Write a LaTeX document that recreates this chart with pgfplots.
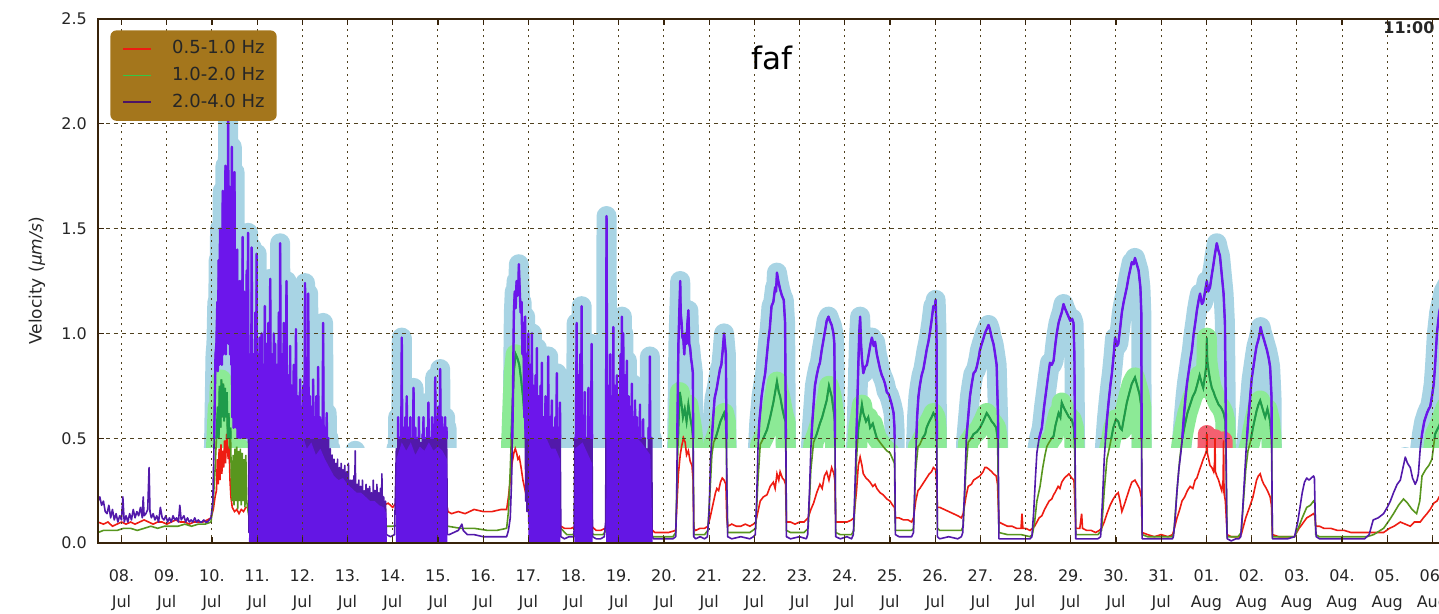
\documentclass[border=0pt]{standalone}
\usepackage{fontspec}
\setmainfont{DejaVu Sans}
\usepackage{pgfplots}
\usepackage{pgfplotstable}
\pgfplotsset{compat=1.18}

\definecolor{haloblue}{RGB}{168,212,228}
\definecolor{halogreen}{RGB}{140,234,150}
\definecolor{halored}{RGB}{244,96,112}
\definecolor{redbase}{RGB}{238,28,18}
\definecolor{greenbase}{RGB}{88,150,30}
\definecolor{greenleg}{RGB}{50,200,70}
\definecolor{greenvivid}{RGB}{30,155,75}
\definecolor{purplebase}{RGB}{82,25,170}
\definecolor{purplevivid}{RGB}{108,22,235}
\definecolor{purplefill}{RGB}{100,22,228}
\definecolor{purpleleg}{RGB}{75,20,100}
\definecolor{legfill}{RGB}{164,118,28}
\definecolor{framec}{RGB}{55,35,10}
\definecolor{gridc}{RGB}{80,65,30}

% 0.5-1.0 Hz
\pgfplotstableread[row sep=\\]{
x y\\
-0.52 0.10\\ -0.40 0.09\\ -0.30 0.10\\ -0.20 0.08\\ -0.10 0.09\\ 0.00 0.10\\ 0.10 0.09\\ 0.20 0.10\\ 0.30 0.09\\ 0.40 0.10\\
0.50 0.11\\ 0.60 0.10\\ 0.70 0.09\\ 0.80 0.10\\ 0.90 0.10\\ 1.00 0.09\\ 1.10 0.10\\ 1.20 0.11\\ 1.30 0.10\\ 1.40 0.10\\
1.50 0.09\\ 1.60 0.10\\ 1.70 0.10\\ 1.80 0.10\\ 1.90 0.11\\ 1.98 0.12\\ 2.03 0.16\\ 2.07 0.22\\ 2.10 0.25\\ 2.12 0.40\\
2.14 0.28\\ 2.16 0.45\\ 2.18 0.30\\ 2.20 0.47\\ 2.22 0.33\\ 2.24 0.44\\ 2.26 0.36\\ 2.28 0.49\\ 2.30 0.38\\ 2.33 0.52\\
2.36 0.40\\ 2.38 0.46\\ 2.40 0.30\\ 2.42 0.22\\ 2.45 0.17\\ 2.50 0.15\\ 2.55 0.16\\ 2.60 0.14\\ 2.65 0.16\\ 2.70 0.15\\
2.75 0.17\\ 2.82 0.17\\ 2.90 0.20\\ 3.00 0.18\\ 3.10 0.22\\ 3.20 0.19\\ 3.30 0.20\\ 3.40 0.18\\ 3.50 0.20\\ 3.60 0.17\\
3.70 0.19\\ 3.80 0.18\\ 3.90 0.20\\ 4.00 0.17\\ 4.20 0.18\\ 4.40 0.17\\ 4.60 0.16\\ 4.80 0.17\\ 5.00 0.16\\ 5.20 0.17\\
5.40 0.16\\ 5.60 0.17\\ 5.80 0.18\\ 5.90 0.19\\ 6.00 0.17\\ 6.10 0.20\\ 6.30 0.25\\ 6.50 0.22\\ 6.70 0.26\\ 6.90 0.24\\
7.05 0.32\\ 7.15 0.25\\ 7.22 0.15\\ 7.30 0.14\\ 7.45 0.15\\ 7.60 0.14\\ 7.80 0.16\\ 8.00 0.15\\ 8.20 0.15\\ 8.40 0.16\\
8.52 0.16\\ 8.56 0.22\\ 8.60 0.30\\ 8.64 0.38\\ 8.68 0.43\\ 8.71 0.45\\ 8.74 0.43\\ 8.77 0.40\\ 8.80 0.41\\ 8.84 0.36\\
8.88 0.30\\ 8.93 0.25\\ 8.98 0.20\\ 9.05 0.16\\ 9.15 0.13\\ 9.30 0.11\\ 9.45 0.10\\ 9.60 0.09\\ 9.72 0.08\\ 9.80 0.07\\
9.95 0.07\\ 10.05 0.08\\ 10.07 0.29\\ 10.09 0.10\\ 10.20 0.12\\ 10.30 0.10\\ 10.40 0.08\\ 10.50 0.06\\ 10.60 0.06\\ 10.70 0.07\\
10.80 0.10\\ 10.90 0.12\\ 10.96 0.20\\ 11.00 0.12\\ 11.10 0.10\\ 11.20 0.12\\ 11.30 0.10\\ 11.40 0.09\\ 11.50 0.10\\ 11.60 0.08\\
11.70 0.07\\ 11.80 0.05\\ 11.95 0.05\\ 12.10 0.05\\ 12.26 0.06\\ 12.29 0.20\\ 12.32 0.33\\ 12.36 0.42\\ 12.39 0.46\\ 12.43 0.50\\
12.47 0.48\\ 12.50 0.42\\ 12.54 0.44\\ 12.58 0.39\\ 12.62 0.37\\ 12.645 0.30\\ 12.66 0.07\\ 12.70 0.06\\ 12.80 0.07\\ 12.90 0.07\\
12.97 0.08\\ 13.02 0.12\\ 13.06 0.16\\ 13.10 0.20\\ 13.14 0.24\\ 13.17 0.26\\ 13.21 0.25\\ 13.25 0.29\\ 13.29 0.31\\ 13.33 0.30\\
13.37 0.28\\ 13.39 0.12\\ 13.41 0.08\\ 13.50 0.09\\ 13.60 0.08\\ 13.70 0.08\\ 13.80 0.09\\ 13.90 0.08\\ 13.98 0.09\\ 14.03 0.10\\
14.08 0.15\\ 14.13 0.20\\ 14.20 0.22\\ 14.28 0.23\\ 14.35 0.27\\ 14.42 0.29\\ 14.46 0.26\\ 14.50 0.33\\ 14.54 0.30\\ 14.57 0.34\\
14.62 0.31\\ 14.66 0.30\\ 14.69 0.28\\ 14.71 0.10\\ 14.80 0.10\\ 14.90 0.09\\ 15.00 0.10\\ 15.10 0.10\\ 15.19 0.12\\ 15.25 0.16\\
15.31 0.19\\ 15.38 0.24\\ 15.45 0.28\\ 15.50 0.26\\ 15.55 0.32\\ 15.60 0.34\\ 15.65 0.30\\ 15.71 0.36\\ 15.76 0.33\\ 15.78 0.30\\
15.80 0.10\\ 15.90 0.10\\ 16.05 0.10\\ 16.15 0.11\\ 16.20 0.12\\ 16.26 0.25\\ 16.30 0.37\\ 16.34 0.41\\ 16.38 0.37\\ 16.41 0.33\\
16.47 0.31\\ 16.52 0.30\\ 16.56 0.29\\ 16.62 0.27\\ 16.67 0.28\\ 16.71 0.26\\ 16.78 0.24\\ 16.85 0.23\\ 16.93 0.21\\ 17.00 0.20\\
17.06 0.18\\ 17.10 0.17\\ 17.12 0.12\\ 17.20 0.12\\ 17.30 0.11\\ 17.40 0.11\\ 17.48 0.10\\ 17.52 0.12\\ 17.57 0.20\\ 17.62 0.25\\
17.66 0.26\\ 17.72 0.28\\ 17.78 0.30\\ 17.81 0.31\\ 17.87 0.33\\ 17.92 0.34\\ 17.96 0.36\\ 18.01 0.35\\ 18.03 0.30\\ 18.05 0.17\\
18.10 0.17\\ 18.20 0.16\\ 18.30 0.15\\ 18.40 0.14\\ 18.50 0.13\\ 18.58 0.12\\ 18.62 0.14\\ 18.68 0.22\\ 18.73 0.27\\ 18.80 0.28\\
18.85 0.30\\ 18.92 0.31\\ 18.99 0.32\\ 19.06 0.34\\ 19.10 0.36\\ 19.14 0.36\\ 19.20 0.35\\ 19.25 0.34\\ 19.29 0.33\\ 19.35 0.32\\
19.38 0.28\\ 19.41 0.10\\ 19.50 0.09\\ 19.60 0.08\\ 19.70 0.08\\ 19.80 0.07\\ 19.90 0.07\\ 19.92 0.14\\ 19.94 0.07\\ 20.00 0.07\\
20.10 0.06\\ 20.15 0.07\\ 20.20 0.08\\ 20.25 0.10\\ 20.30 0.12\\ 20.36 0.13\\ 20.42 0.16\\ 20.47 0.18\\ 20.52 0.20\\ 20.58 0.21\\
20.62 0.23\\ 20.65 0.24\\ 20.72 0.27\\ 20.76 0.26\\ 20.80 0.29\\ 20.86 0.31\\ 20.91 0.32\\ 20.96 0.33\\ 21.02 0.31\\ 21.07 0.30\\
21.09 0.20\\ 21.11 0.07\\ 21.20 0.07\\ 21.24 0.14\\ 21.26 0.07\\ 21.35 0.06\\ 21.45 0.06\\ 21.55 0.05\\ 21.63 0.06\\ 21.68 0.07\\
21.74 0.10\\ 21.80 0.14\\ 21.87 0.18\\ 21.94 0.21\\ 22.00 0.23\\ 22.05 0.24\\ 22.09 0.20\\ 22.13 0.15\\ 22.18 0.18\\ 22.24 0.22\\
22.30 0.26\\ 22.35 0.29\\ 22.42 0.30\\ 22.47 0.28\\ 22.52 0.26\\ 22.56 0.22\\ 22.58 0.05\\ 22.70 0.04\\ 22.85 0.03\\ 23.00 0.04\\
23.15 0.03\\ 23.25 0.04\\ 23.28 0.06\\ 23.35 0.12\\ 23.41 0.16\\ 23.46 0.20\\ 23.52 0.22\\ 23.58 0.25\\ 23.64 0.27\\ 23.70 0.26\\
23.75 0.30\\ 23.79 0.31\\ 23.85 0.35\\ 23.90 0.38\\ 23.93 0.40\\ 23.97 0.42\\ 24.00 0.44\\ 24.01 0.52\\ 24.02 0.43\\ 24.05 0.40\\
24.08 0.37\\ 24.12 0.36\\ 24.16 0.34\\ 24.18 0.38\\ 24.19 0.50\\ 24.20 0.34\\ 24.23 0.32\\ 24.27 0.30\\ 24.31 0.27\\ 24.34 0.25\\
24.37 0.30\\ 24.38 0.49\\ 24.39 0.24\\ 24.42 0.20\\ 24.46 0.04\\ 24.55 0.03\\ 24.65 0.03\\ 24.72 0.03\\ 24.77 0.04\\ 24.82 0.08\\
24.87 0.12\\ 24.92 0.15\\ 24.97 0.18\\ 25.03 0.22\\ 25.08 0.27\\ 25.11 0.30\\ 25.15 0.32\\ 25.19 0.33\\ 25.23 0.30\\ 25.27 0.28\\
25.30 0.27\\ 25.35 0.25\\ 25.41 0.22\\ 25.44 0.18\\ 25.46 0.04\\ 25.60 0.03\\ 25.80 0.03\\ 25.95 0.03\\ 25.97 0.04\\ 26.05 0.07\\
26.12 0.09\\ 26.22 0.12\\ 26.30 0.13\\ 26.37 0.14\\ 26.40 0.13\\ 26.42 0.08\\ 26.50 0.08\\ 26.60 0.07\\ 26.75 0.07\\ 26.90 0.06\\
27.05 0.06\\ 27.20 0.05\\ 27.35 0.05\\ 27.50 0.05\\ 27.65 0.05\\ 27.80 0.05\\ 27.92 0.05\\ 28.05 0.07\\ 28.15 0.08\\ 28.29 0.10\\
28.40 0.09\\ 28.51 0.08\\ 28.60 0.10\\ 28.73 0.10\\ 28.80 0.12\\ 28.88 0.14\\ 28.95 0.16\\ 29.03 0.19\\ 29.10 0.20\\ 29.15 0.22\\
29.30 0.26\\ 29.50 0.30\\
}\redtab

% 1.0-2.0 Hz
\pgfplotstableread[row sep=\\]{
x y\\
-0.52 0.05\\ -0.40 0.06\\ -0.25 0.06\\ -0.10 0.06\\ 0.05 0.07\\ 0.20 0.07\\ 0.35 0.06\\ 0.50 0.07\\ 0.65 0.08\\ 0.80 0.07\\
0.95 0.08\\ 1.10 0.08\\ 1.25 0.08\\ 1.40 0.09\\ 1.55 0.08\\ 1.70 0.09\\ 1.85 0.09\\ 1.98 0.10\\ 2.03 0.20\\ 2.07 0.35\\
2.10 0.50\\ 2.13 0.65\\ 2.15 0.50\\ 2.17 0.75\\ 2.19 0.55\\ 2.21 0.78\\ 2.23 0.60\\ 2.25 0.76\\ 2.27 0.58\\ 2.29 0.74\\
2.31 0.60\\ 2.33 0.72\\ 2.35 0.50\\ 2.37 0.62\\ 2.39 0.45\\ 2.41 0.55\\ 2.43 0.30\\ 2.45 0.20\\ 2.47 0.42\\ 2.49 0.18\\
2.51 0.45\\ 2.53 0.20\\ 2.55 0.46\\ 2.57 0.16\\ 2.59 0.44\\ 2.61 0.20\\ 2.63 0.45\\ 2.65 0.18\\ 2.67 0.43\\ 2.69 0.20\\
2.71 0.40\\ 2.73 0.17\\ 2.75 0.42\\ 2.77 0.20\\ 2.80 0.15\\ 2.85 0.09\\ 3.20 0.08\\ 3.60 0.09\\ 4.00 0.08\\ 4.50 0.08\\
5.00 0.07\\ 5.50 0.08\\ 6.00 0.08\\ 6.50 0.10\\ 7.00 0.10\\ 7.22 0.08\\ 7.50 0.07\\ 7.80 0.07\\ 8.10 0.06\\ 8.30 0.06\\
8.52 0.07\\ 8.56 0.15\\ 8.60 0.35\\ 8.64 0.60\\ 8.68 0.82\\ 8.72 0.90\\ 8.76 0.88\\ 8.80 0.85\\ 8.84 0.78\\ 8.88 0.70\\
8.92 0.60\\ 8.96 0.50\\ 9.00 0.38\\ 9.05 0.28\\ 9.10 0.22\\ 9.20 0.18\\ 9.30 0.15\\ 9.45 0.12\\ 9.60 0.10\\ 9.72 0.07\\
9.85 0.04\\ 9.98 0.04\\ 10.10 0.06\\ 10.30 0.06\\ 10.45 0.04\\ 10.65 0.04\\ 10.80 0.08\\ 10.96 0.27\\ 10.98 0.08\\ 11.20 0.07\\
11.50 0.06\\ 11.77 0.03\\ 12.00 0.03\\ 12.20 0.03\\ 12.26 0.05\\ 12.29 0.30\\ 12.32 0.55\\ 12.35 0.72\\ 12.38 0.68\\ 12.42 0.60\\
12.46 0.64\\ 12.50 0.58\\ 12.54 0.66\\ 12.58 0.60\\ 12.62 0.55\\ 12.645 0.50\\ 12.66 0.04\\ 12.80 0.04\\ 12.90 0.04\\ 12.97 0.06\\
13.02 0.25\\ 13.06 0.42\\ 13.10 0.48\\ 13.14 0.50\\ 13.17 0.52\\ 13.21 0.55\\ 13.25 0.58\\ 13.29 0.60\\ 13.33 0.62\\ 13.37 0.58\\
13.39 0.30\\ 13.41 0.05\\ 13.50 0.05\\ 13.70 0.05\\ 13.90 0.05\\ 14.03 0.07\\ 14.08 0.30\\ 14.13 0.47\\ 14.20 0.50\\ 14.28 0.54\\
14.35 0.60\\ 14.42 0.67\\ 14.46 0.72\\ 14.50 0.77\\ 14.54 0.72\\ 14.57 0.70\\ 14.62 0.64\\ 14.66 0.60\\ 14.69 0.58\\ 14.71 0.06\\
14.80 0.05\\ 15.00 0.05\\ 15.10 0.05\\ 15.19 0.07\\ 15.25 0.35\\ 15.31 0.48\\ 15.38 0.52\\ 15.45 0.57\\ 15.50 0.60\\ 15.55 0.64\\
15.60 0.68\\ 15.65 0.75\\ 15.71 0.70\\ 15.76 0.62\\ 15.78 0.58\\ 15.80 0.05\\ 15.90 0.04\\ 16.05 0.04\\ 16.15 0.04\\ 16.20 0.06\\
16.26 0.40\\ 16.30 0.55\\ 16.34 0.60\\ 16.38 0.66\\ 16.41 0.62\\ 16.47 0.58\\ 16.52 0.60\\ 16.56 0.55\\ 16.62 0.57\\ 16.67 0.53\\
16.71 0.50\\ 16.78 0.48\\ 16.85 0.46\\ 16.93 0.44\\ 17.00 0.43\\ 17.06 0.40\\ 17.10 0.38\\ 17.12 0.06\\ 17.20 0.06\\ 17.35 0.06\\
17.48 0.06\\ 17.52 0.07\\ 17.57 0.35\\ 17.62 0.46\\ 17.66 0.47\\ 17.72 0.50\\ 17.78 0.52\\ 17.81 0.55\\ 17.87 0.58\\ 17.92 0.60\\
17.96 0.62\\ 18.01 0.60\\ 18.03 0.55\\ 18.05 0.07\\ 18.10 0.06\\ 18.30 0.06\\ 18.50 0.06\\ 18.58 0.06\\ 18.62 0.08\\ 18.68 0.35\\
18.73 0.48\\ 18.80 0.50\\ 18.85 0.52\\ 18.92 0.53\\ 18.99 0.55\\ 19.06 0.58\\ 19.10 0.60\\ 19.14 0.62\\ 19.20 0.60\\ 19.25 0.58\\
19.29 0.57\\ 19.35 0.55\\ 19.38 0.50\\ 19.41 0.05\\ 19.60 0.04\\ 19.90 0.04\\ 20.10 0.03\\ 20.15 0.04\\ 20.20 0.10\\ 20.25 0.20\\
20.32 0.27\\ 20.38 0.36\\ 20.43 0.42\\ 20.47 0.46\\ 20.52 0.48\\ 20.58 0.50\\ 20.62 0.51\\ 20.66 0.56\\ 20.73 0.62\\ 20.77 0.60\\
20.80 0.67\\ 20.86 0.64\\ 20.91 0.62\\ 20.96 0.60\\ 21.02 0.59\\ 21.07 0.55\\ 21.09 0.40\\ 21.11 0.04\\ 21.20 0.04\\ 21.40 0.04\\
21.60 0.04\\ 21.68 0.06\\ 21.74 0.25\\ 21.80 0.40\\ 21.87 0.47\\ 21.94 0.55\\ 22.00 0.59\\ 22.05 0.58\\ 22.09 0.55\\ 22.13 0.54\\
22.18 0.60\\ 22.24 0.67\\ 22.30 0.72\\ 22.35 0.76\\ 22.42 0.79\\ 22.47 0.75\\ 22.52 0.71\\ 22.56 0.65\\ 22.58 0.04\\ 22.70 0.03\\
23.00 0.03\\ 23.25 0.03\\ 23.28 0.05\\ 23.35 0.25\\ 23.41 0.40\\ 23.46 0.49\\ 23.52 0.56\\ 23.58 0.62\\ 23.64 0.66\\ 23.70 0.70\\
23.75 0.72\\ 23.79 0.75\\ 23.85 0.80\\ 23.90 0.76\\ 23.93 0.74\\ 23.97 0.80\\ 24.00 0.85\\ 24.01 0.98\\ 24.02 0.87\\ 24.05 0.82\\
24.08 0.78\\ 24.12 0.74\\ 24.16 0.72\\ 24.19 0.70\\ 24.23 0.68\\ 24.27 0.66\\ 24.31 0.65\\ 24.34 0.64\\ 24.38 0.62\\ 24.42 0.58\\
24.46 0.03\\ 24.55 0.03\\ 24.70 0.03\\ 24.77 0.05\\ 24.82 0.20\\ 24.87 0.35\\ 24.92 0.44\\ 24.97 0.48\\ 25.03 0.55\\ 25.08 0.60\\
25.11 0.63\\ 25.15 0.66\\ 25.19 0.68\\ 25.23 0.65\\ 25.27 0.62\\ 25.30 0.60\\ 25.35 0.64\\ 25.41 0.58\\ 25.44 0.50\\ 25.46 0.03\\
25.60 0.03\\ 25.80 0.03\\ 25.95 0.03\\ 25.97 0.04\\ 26.05 0.08\\ 26.12 0.12\\ 26.22 0.17\\ 26.30 0.18\\ 26.37 0.20\\ 26.40 0.19\\
26.42 0.04\\ 26.50 0.03\\ 26.80 0.03\\ 27.10 0.03\\ 27.40 0.03\\ 27.55 0.03\\ 27.70 0.04\\ 27.92 0.07\\ 28.05 0.11\\ 28.14 0.14\\
28.25 0.18\\ 28.36 0.21\\ 28.45 0.19\\ 28.55 0.16\\ 28.65 0.14\\ 28.72 0.20\\ 28.77 0.32\\ 28.85 0.35\\ 28.92 0.37\\ 28.99 0.40\\
29.06 0.52\\ 29.15 0.56\\ 29.30 0.65\\ 29.50 0.70\\
}\greentab

% 2.0-4.0 Hz
\pgfplotstableread[row sep=\\]{
x y\\
-0.52 0.20\\ -0.48 0.22\\ -0.44 0.18\\ -0.40 0.20\\ -0.36 0.15\\ -0.32 0.14\\ -0.28 0.18\\ -0.24 0.12\\ -0.20 0.16\\ -0.16 0.11\\
-0.12 0.14\\ -0.08 0.10\\ -0.04 0.13\\ 0.00 0.11\\ 0.03 0.22\\ 0.06 0.10\\ 0.10 0.13\\ 0.14 0.10\\ 0.18 0.14\\ 0.22 0.11\\
0.26 0.16\\ 0.30 0.12\\ 0.34 0.15\\ 0.38 0.13\\ 0.42 0.17\\ 0.46 0.12\\ 0.48 0.22\\ 0.50 0.13\\ 0.54 0.14\\ 0.58 0.16\\
0.61 0.36\\ 0.63 0.15\\ 0.66 0.12\\ 0.70 0.14\\ 0.74 0.11\\ 0.78 0.13\\ 0.82 0.10\\ 0.86 0.17\\ 0.90 0.12\\ 0.94 0.11\\
0.98 0.13\\ 1.02 0.10\\ 1.06 0.12\\ 1.10 0.10\\ 1.14 0.13\\ 1.18 0.11\\ 1.22 0.12\\ 1.26 0.10\\ 1.29 0.18\\ 1.32 0.11\\
1.38 0.13\\ 1.42 0.10\\ 1.46 0.12\\ 1.50 0.10\\ 1.54 0.11\\ 1.58 0.10\\ 1.62 0.12\\ 1.66 0.10\\ 1.70 0.11\\ 1.74 0.10\\
1.78 0.10\\ 1.82 0.11\\ 1.86 0.10\\ 1.90 0.10\\ 1.94 0.11\\ 1.98 0.12\\ 2.02 0.20\\ 2.05 0.50\\ 2.08 0.90\\ 2.10 0.95\\
2.12 1.15\\ 2.13 0.82\\ 2.15 1.35\\ 2.16 0.85\\ 2.18 1.50\\ 2.19 0.90\\ 2.21 1.45\\ 2.22 0.85\\ 2.24 1.68\\ 2.25 0.90\\
2.27 1.60\\ 2.28 0.95\\ 2.30 1.80\\ 2.31 0.90\\ 2.33 1.75\\ 2.34 1.00\\ 2.36 2.06\\ 2.37 0.95\\ 2.39 1.70\\ 2.40 0.90\\
2.42 1.60\\ 2.43 0.85\\ 2.44 1.89\\ 2.45 0.60\\ 2.47 1.55\\ 2.48 0.55\\ 2.50 1.77\\ 2.51 0.60\\ 2.53 1.30\\ 2.54 0.55\\
2.56 1.40\\ 2.57 0.50\\ 2.59 1.20\\ 2.60 0.55\\ 2.62 1.25\\ 2.63 0.50\\ 2.65 1.10\\ 2.66 0.55\\ 2.68 1.46\\ 2.69 0.50\\
2.71 1.20\\ 2.72 0.55\\ 2.74 1.10\\ 2.75 0.50\\ 2.77 1.30\\ 2.78 0.52\\ 2.80 1.48\\ 2.81 0.50\\ 2.82 0.05\\
2.85 0.90\\ 2.86 0.05\\ 2.88 1.41\\ 2.90 0.04\\ 2.92 0.90\\ 2.94 0.05\\ 2.96 1.10\\ 2.97 0.04\\ 2.99 1.38\\ 3.00 0.05\\
3.02 0.90\\ 3.04 0.04\\ 3.06 0.98\\ 3.08 0.05\\ 3.10 1.00\\ 3.11 0.04\\ 3.13 0.85\\ 3.15 0.05\\ 3.17 1.13\\ 3.19 0.04\\
3.21 0.95\\ 3.23 0.05\\ 3.25 1.05\\ 3.27 0.04\\ 3.29 1.26\\ 3.31 0.05\\ 3.33 0.90\\ 3.35 0.04\\ 3.37 1.00\\ 3.38 0.05\\
3.40 0.95\\ 3.42 0.04\\ 3.44 0.85\\ 3.46 0.05\\ 3.48 1.10\\ 3.49 0.04\\ 3.51 1.43\\ 3.53 0.05\\ 3.55 0.90\\ 3.57 0.04\\
3.59 1.05\\ 3.60 0.05\\ 3.62 0.85\\ 3.63 0.04\\ 3.65 1.25\\ 3.67 0.05\\ 3.69 0.80\\ 3.71 0.04\\ 3.73 0.94\\ 3.75 0.05\\
3.77 0.75\\ 3.79 0.04\\ 3.81 0.85\\ 3.83 0.05\\ 3.86 1.02\\ 3.88 0.04\\ 3.90 0.70\\ 3.92 0.05\\ 3.95 0.78\\ 3.97 0.04\\
3.99 0.65\\ 4.00 0.05\\ 4.02 0.75\\ 4.04 0.04\\ 4.06 1.24\\ 4.08 0.05\\ 4.10 0.80\\ 4.11 0.04\\ 4.13 1.19\\ 4.15 0.05\\
4.17 0.70\\ 4.18 0.04\\ 4.20 0.65\\ 4.22 0.05\\ 4.24 0.78\\ 4.26 0.04\\ 4.28 0.60\\ 4.29 0.05\\ 4.31 0.70\\ 4.33 0.04\\
4.35 0.84\\ 4.37 0.05\\ 4.39 0.60\\ 4.40 0.04\\ 4.42 0.55\\ 4.44 0.05\\ 4.46 1.05\\ 4.48 0.04\\ 4.50 0.55\\ 4.52 0.05\\
4.54 0.62\\ 4.56 0.04\\ 4.58 0.50\\ 4.60 0.05\\ 4.62 0.45\\ 4.64 0.04\\ 4.66 0.42\\ 4.68 0.05\\ 4.70 0.40\\ 4.72 0.04\\
4.74 0.38\\ 4.76 0.05\\ 4.78 0.40\\ 4.80 0.04\\ 4.82 0.36\\ 4.84 0.05\\ 4.86 0.38\\ 4.88 0.04\\ 4.90 0.35\\ 4.92 0.05\\
4.94 0.37\\ 4.96 0.04\\ 4.98 0.34\\ 5.00 0.05\\ 5.02 0.38\\ 5.04 0.04\\ 5.06 0.30\\ 5.08 0.05\\ 5.10 0.30\\ 5.12 0.04\\
5.14 0.32\\ 5.15 0.05\\ 5.17 0.44\\ 5.19 0.04\\ 5.21 0.28\\ 5.23 0.05\\ 5.25 0.30\\ 5.27 0.04\\ 5.29 0.27\\ 5.31 0.05\\
5.33 0.30\\ 5.35 0.04\\ 5.37 0.25\\ 5.39 0.05\\ 5.41 0.28\\ 5.43 0.04\\ 5.45 0.26\\ 5.47 0.05\\ 5.49 0.27\\ 5.51 0.04\\
5.53 0.24\\ 5.55 0.05\\ 5.57 0.30\\ 5.59 0.04\\ 5.61 0.25\\ 5.63 0.05\\ 5.65 0.28\\ 5.67 0.04\\ 5.69 0.24\\ 5.71 0.05\\
5.73 0.26\\ 5.75 0.04\\ 5.76 0.33\\ 5.78 0.05\\ 5.80 0.22\\ 5.82 0.04\\ 5.84 0.20\\ 5.86 0.04\\ 5.95 0.03\\ 6.04 0.04\\
6.08 0.45\\ 6.10 0.05\\ 6.12 0.60\\ 6.14 0.04\\ 6.16 0.50\\ 6.18 0.05\\ 6.20 0.98\\ 6.22 0.04\\ 6.24 0.55\\ 6.26 0.05\\
6.28 0.60\\ 6.29 0.04\\ 6.31 0.70\\ 6.33 0.05\\ 6.35 0.55\\ 6.37 0.04\\ 6.39 0.60\\ 6.40 0.05\\ 6.42 0.50\\ 6.44 0.04\\
6.46 0.74\\ 6.48 0.05\\ 6.50 0.55\\ 6.52 0.04\\ 6.54 0.50\\ 6.56 0.05\\ 6.58 0.60\\ 6.60 0.04\\ 6.62 0.48\\ 6.64 0.05\\
6.66 0.52\\ 6.67 0.04\\ 6.68 0.60\\ 6.70 0.05\\ 6.72 0.50\\ 6.74 0.04\\ 6.76 0.55\\ 6.77 0.05\\ 6.79 0.67\\ 6.81 0.04\\
6.83 0.50\\ 6.85 0.05\\ 6.87 0.60\\ 6.88 0.04\\ 6.90 0.55\\ 6.92 0.05\\ 6.94 0.79\\ 6.96 0.04\\ 6.98 0.60\\ 6.99 0.05\\
7.01 0.65\\ 7.03 0.04\\ 7.05 0.83\\ 7.07 0.05\\ 7.09 0.60\\ 7.11 0.04\\ 7.13 0.55\\ 7.14 0.05\\ 7.16 0.60\\ 7.17 0.04\\
7.19 0.55\\ 7.21 0.04\\ 7.25 0.04\\ 7.35 0.05\\ 7.45 0.06\\ 7.53 0.09\\ 7.56 0.06\\ 7.65 0.04\\ 7.80 0.04\\ 8.00 0.03\\
8.20 0.03\\ 8.40 0.03\\ 8.52 0.03\\ 8.56 0.06\\ 8.60 0.12\\ 8.63 0.30\\ 8.66 0.70\\ 8.68 1.10\\ 8.70 1.20\\ 8.72 1.12\\
8.74 1.25\\ 8.76 1.18\\ 8.78 1.22\\ 8.79 1.33\\ 8.81 1.20\\ 8.83 1.10\\ 8.85 1.15\\ 8.87 0.90\\ 8.89 1.05\\ 8.91 0.60\\
8.93 1.08\\ 8.94 0.20\\ 8.96 0.90\\ 8.97 0.15\\ 9.00 1.00\\ 9.01 0.10\\ 9.04 0.85\\ 9.05 0.12\\ 9.08 1.00\\ 9.09 0.08\\
9.12 0.75\\ 9.13 0.10\\ 9.16 0.80\\ 9.17 0.06\\ 9.19 0.93\\ 9.20 0.05\\ 9.23 0.70\\ 9.24 0.08\\ 9.27 0.75\\ 9.28 0.05\\
9.30 0.86\\ 9.31 0.06\\ 9.34 0.60\\ 9.35 0.05\\ 9.38 0.70\\ 9.39 0.06\\ 9.41 0.65\\ 9.42 0.05\\ 9.44 0.89\\ 9.45 0.04\\
9.48 0.60\\ 9.49 0.05\\ 9.52 0.68\\ 9.53 0.04\\ 9.56 0.55\\ 9.57 0.05\\ 9.60 0.60\\ 9.61 0.04\\ 9.63 0.81\\ 9.64 0.04\\
9.67 0.55\\ 9.68 0.05\\ 9.70 0.67\\ 9.72 0.03\\ 9.80 0.02\\ 9.90 0.03\\ 9.98 0.03\\ 10.01 0.03\\ 10.03 0.50\\ 10.04 0.10\\
10.07 1.05\\ 10.08 0.10\\ 10.11 0.80\\ 10.12 0.08\\ 10.15 0.90\\ 10.16 0.10\\ 10.18 1.13\\ 10.19 0.08\\ 10.22 0.60\\ 10.23 0.05\\
10.25 0.72\\ 10.26 0.06\\ 10.29 0.50\\ 10.30 0.05\\ 10.33 0.74\\ 10.34 0.05\\ 10.37 0.60\\ 10.38 0.04\\ 10.40 0.95\\ 10.42 0.03\\
10.50 0.02\\ 10.60 0.02\\ 10.68 0.03\\ 10.71 0.10\\ 10.72 0.60\\ 10.73 1.56\\ 10.75 0.10\\ 10.78 0.75\\ 10.79 0.08\\ 10.81 0.90\\
10.82 0.10\\ 10.85 0.70\\ 10.86 0.10\\ 10.88 1.03\\ 10.89 0.08\\ 10.92 0.75\\ 10.93 0.10\\ 10.96 0.80\\ 10.97 0.08\\ 11.00 0.70\\
11.01 0.10\\ 11.04 0.90\\ 11.05 0.08\\ 11.07 1.08\\ 11.08 0.10\\ 11.10 1.00\\ 11.11 0.08\\ 11.14 0.80\\ 11.15 0.06\\ 11.18 0.87\\
11.19 0.06\\ 11.22 0.70\\ 11.23 0.05\\ 11.26 0.65\\ 11.27 0.05\\ 11.29 0.76\\ 11.30 0.05\\ 11.33 0.60\\ 11.34 0.05\\ 11.36 0.68\\
11.37 0.04\\ 11.40 0.60\\ 11.41 0.05\\ 11.44 0.55\\ 11.45 0.04\\ 11.47 0.66\\ 11.48 0.04\\ 11.51 0.50\\ 11.52 0.04\\ 11.54 0.59\\
11.55 0.04\\ 11.58 0.50\\ 11.59 0.04\\ 11.62 0.45\\ 11.63 0.04\\ 11.66 0.55\\ 11.67 0.03\\ 11.69 0.89\\ 11.70 0.04\\ 11.73 0.50\\
11.74 0.03\\ 11.77 0.02\\ 11.90 0.02\\ 12.05 0.02\\ 12.20 0.02\\ 12.26 0.03\\ 12.28 0.20\\ 12.30 0.60\\ 12.32 0.95\\ 12.34 1.10\\
12.36 1.25\\ 12.37 1.10\\ 12.39 1.05\\ 12.41 0.98\\ 12.43 0.97\\ 12.45 0.90\\ 12.47 1.00\\ 12.50 0.95\\ 12.52 1.05\\ 12.54 1.11\\
12.56 0.95\\ 12.58 0.93\\ 12.60 0.88\\ 12.62 0.85\\ 12.64 0.81\\ 12.65 0.30\\ 12.66 0.03\\ 12.70 0.02\\ 12.80 0.03\\ 12.90 0.02\\
12.96 0.03\\ 13.00 0.15\\ 13.03 0.40\\ 13.06 0.50\\ 13.09 0.60\\ 13.12 0.69\\ 13.15 0.72\\ 13.17 0.74\\ 13.20 0.78\\ 13.24 0.83\\
13.27 0.85\\ 13.30 0.92\\ 13.33 1.00\\ 13.35 0.95\\ 13.37 0.90\\ 13.39 0.30\\ 13.41 0.03\\ 13.50 0.02\\ 13.70 0.03\\ 13.90 0.02\\
13.98 0.03\\ 14.02 0.04\\ 14.05 0.20\\ 14.08 0.45\\ 14.11 0.58\\ 14.14 0.65\\ 14.16 0.70\\ 14.20 0.76\\ 14.24 0.81\\ 14.27 0.88\\
14.31 0.97\\ 14.34 1.02\\ 14.38 1.13\\ 14.42 1.15\\ 14.46 1.22\\ 14.48 1.20\\ 14.50 1.29\\ 14.53 1.25\\ 14.57 1.21\\ 14.61 1.18\\
14.65 1.16\\ 14.68 1.05\\ 14.70 0.40\\ 14.71 0.03\\ 14.80 0.02\\ 15.00 0.03\\ 15.15 0.02\\ 15.18 0.04\\ 15.22 0.25\\ 15.25 0.45\\
15.28 0.57\\ 15.31 0.66\\ 15.34 0.75\\ 15.38 0.80\\ 15.42 0.84\\ 15.45 0.86\\ 15.49 0.92\\ 15.53 0.97\\ 15.57 1.02\\ 15.60 1.06\\
15.64 1.08\\ 15.67 1.06\\ 15.71 1.04\\ 15.75 1.00\\ 15.77 0.95\\ 15.79 0.30\\ 15.80 0.03\\ 15.90 0.02\\ 16.05 0.03\\ 16.15 0.02\\
16.19 0.04\\ 16.23 0.30\\ 16.27 0.60\\ 16.30 0.85\\ 16.32 1.00\\ 16.34 1.08\\ 16.36 0.95\\ 16.38 0.88\\ 16.41 0.81\\ 16.45 0.84\\
16.49 0.85\\ 16.53 0.90\\ 16.57 0.95\\ 16.60 0.98\\ 16.64 0.94\\ 16.67 0.96\\ 16.71 0.90\\ 16.75 0.86\\ 16.78 0.83\\ 16.82 0.80\\
16.86 0.78\\ 16.89 0.76\\ 16.93 0.72\\ 16.97 0.71\\ 17.00 0.69\\ 17.04 0.66\\ 17.08 0.62\\ 17.10 0.55\\ 17.12 0.04\\ 17.20 0.03\\
17.35 0.03\\ 17.48 0.03\\ 17.52 0.05\\ 17.56 0.35\\ 17.60 0.60\\ 17.63 0.70\\ 17.66 0.75\\ 17.70 0.80\\ 17.74 0.83\\ 17.78 0.88\\
17.81 0.92\\ 17.85 0.96\\ 17.88 1.00\\ 17.92 1.06\\ 17.96 1.13\\ 17.99 1.12\\ 18.01 1.16\\ 18.03 1.00\\ 18.04 0.30\\ 18.05 0.03\\
18.10 0.02\\ 18.30 0.03\\ 18.50 0.02\\ 18.58 0.03\\ 18.61 0.05\\ 18.65 0.25\\ 18.69 0.50\\ 18.73 0.60\\ 18.77 0.70\\ 18.81 0.76\\
18.85 0.81\\ 18.89 0.82\\ 18.92 0.84\\ 18.96 0.88\\ 18.99 0.92\\ 19.03 0.95\\ 19.06 0.97\\ 19.10 1.00\\ 19.14 1.02\\ 19.18 1.04\\
19.21 1.02\\ 19.25 0.98\\ 19.29 0.95\\ 19.32 0.91\\ 19.36 0.85\\ 19.39 0.60\\ 19.41 0.02\\ 19.50 0.02\\ 19.70 0.02\\ 19.90 0.02\\
20.10 0.02\\ 20.14 0.03\\ 20.18 0.15\\ 20.22 0.32\\ 20.25 0.43\\ 20.30 0.50\\ 20.36 0.55\\ 20.41 0.65\\ 20.47 0.75\\ 20.50 0.80\\
20.54 0.86\\ 20.58 0.85\\ 20.62 0.87\\ 20.66 0.95\\ 20.69 1.00\\ 20.73 1.05\\ 20.77 1.08\\ 20.80 1.10\\ 20.84 1.14\\ 20.87 1.12\\
20.91 1.10\\ 20.95 1.08\\ 20.99 1.06\\ 21.03 1.07\\ 21.06 1.05\\ 21.08 0.90\\ 21.10 0.30\\ 21.11 0.02\\ 21.20 0.02\\ 21.40 0.02\\
21.60 0.02\\ 21.66 0.03\\ 21.70 0.20\\ 21.74 0.40\\ 21.77 0.50\\ 21.80 0.59\\ 21.84 0.68\\ 21.88 0.76\\ 21.91 0.81\\ 21.95 0.90\\
21.98 0.98\\ 22.02 0.94\\ 22.05 0.95\\ 22.09 1.02\\ 22.13 1.10\\ 22.17 1.15\\ 22.20 1.18\\ 22.24 1.22\\ 22.28 1.27\\ 22.31 1.30\\
22.35 1.34\\ 22.39 1.33\\ 22.42 1.36\\ 22.46 1.33\\ 22.50 1.30\\ 22.54 1.22\\ 22.56 1.10\\ 22.57 0.30\\ 22.58 0.02\\ 22.70 0.02\\
22.90 0.02\\ 23.10 0.02\\ 23.25 0.02\\ 23.27 0.03\\ 23.31 0.12\\ 23.35 0.25\\ 23.39 0.35\\ 23.43 0.42\\ 23.46 0.48\\ 23.50 0.60\\
23.54 0.70\\ 23.57 0.76\\ 23.61 0.82\\ 23.65 0.88\\ 23.68 0.92\\ 23.72 1.00\\ 23.76 1.06\\ 23.79 1.11\\ 23.83 1.16\\ 23.86 1.19\\
23.90 1.14\\ 23.93 1.15\\ 23.97 1.20\\ 24.01 1.25\\ 24.04 1.20\\ 24.08 1.22\\ 24.12 1.28\\ 24.15 1.32\\ 24.19 1.38\\ 24.23 1.43\\
24.26 1.40\\ 24.30 1.37\\ 24.34 1.28\\ 24.38 1.19\\ 24.41 1.05\\ 24.43 0.60\\ 24.45 0.10\\ 24.46 0.02\\ 24.55 0.01\\ 24.65 0.02\\
24.72 0.02\\ 24.76 0.03\\ 24.80 0.15\\ 24.84 0.30\\ 24.88 0.45\\ 24.93 0.60\\ 24.97 0.70\\ 25.00 0.78\\ 25.04 0.84\\ 25.08 0.90\\
25.11 0.94\\ 25.15 0.97\\ 25.18 1.00\\ 25.20 1.03\\ 25.23 1.00\\ 25.26 0.98\\ 25.30 0.95\\ 25.34 0.92\\ 25.38 0.88\\ 25.41 0.84\\
25.44 0.70\\ 25.45 0.30\\ 25.46 0.02\\ 25.60 0.02\\ 25.80 0.02\\ 25.95 0.03\\ 25.97 0.05\\ 26.02 0.10\\ 26.07 0.17\\ 26.12 0.24\\
26.17 0.29\\ 26.22 0.31\\ 26.27 0.30\\ 26.32 0.31\\ 26.37 0.32\\ 26.39 0.31\\ 26.41 0.10\\ 26.43 0.03\\ 26.50 0.02\\ 26.70 0.02\\
26.90 0.02\\ 27.10 0.02\\ 27.30 0.02\\ 27.50 0.02\\ 27.60 0.04\\ 27.69 0.11\\ 27.80 0.12\\ 27.92 0.14\\ 28.00 0.17\\ 28.07 0.20\\
28.14 0.24\\ 28.22 0.28\\ 28.29 0.30\\ 28.35 0.36\\ 28.40 0.41\\ 28.45 0.38\\ 28.51 0.36\\ 28.56 0.31\\ 28.62 0.28\\ 28.66 0.30\\
28.69 0.33\\ 28.73 0.45\\ 28.77 0.52\\ 28.82 0.58\\ 28.88 0.62\\ 28.92 0.64\\ 28.95 0.65\\ 28.99 0.70\\ 29.03 0.76\\ 29.06 0.85\\
29.10 1.00\\ 29.15 1.10\\ 29.25 1.20\\ 29.50 1.30\\
}\purpletab

% solid part of the densest 2.0-4.0 Hz stretches
\pgfplotstableread[row sep=\\]{
x y\\
2.82 0\\ 2.83 0.55\\ 2.90 0.75\\ 3.00 0.80\\ 3.10 0.72\\ 3.20 0.78\\ 3.30 0.70\\ 3.40 0.65\\ 3.50 0.70\\ 3.60 0.60\\
3.70 0.62\\ 3.80 0.55\\ 3.90 0.50\\ 4.00 0.52\\ 4.10 0.45\\ 4.20 0.48\\ 4.30 0.42\\ 4.40 0.45\\ 4.50 0.40\\ 4.60 0.36\\
4.70 0.32\\ 4.80 0.30\\ 4.90 0.31\\ 5.00 0.28\\ 5.10 0.26\\ 5.20 0.24\\ 5.30 0.24\\ 5.40 0.22\\ 5.50 0.20\\ 5.60 0.20\\
5.70 0.18\\ 5.80 0.17\\ 5.86 0.14\\ 5.87 0\\ 6.07 0\\ 6.08 0.40\\ 6.20 0.48\\ 6.30 0.44\\ 6.40 0.48\\ 6.50 0.42\\
6.60 0.46\\ 6.70 0.44\\ 6.80 0.48\\ 6.90 0.44\\ 7.00 0.46\\ 7.10 0.44\\ 7.20 0.40\\ 7.21 0\\ 9.00 0\\ 9.01 0.70\\
9.10 0.65\\ 9.20 0.60\\ 9.30 0.55\\ 9.40 0.50\\ 9.50 0.45\\ 9.60 0.45\\ 9.70 0.40\\ 9.71 0\\ 10.02 0\\ 10.03 0.45\\
10.20 0.48\\ 10.41 0.38\\ 10.42 0\\ 10.72 0\\ 10.73 0.60\\ 10.90 0.62\\ 11.10 0.58\\ 11.30 0.52\\ 11.50 0.48\\ 11.70 0.42\\
11.75 0\\
}\filltab

\begin{document}
\begin{tikzpicture}
\begin{axis}[
    scale only axis,
    width=678.5pt, height=262pt,
    xmin=-0.52, xmax=29.5, ymin=0, ymax=2.5,
    axis on top,
    axis line style={framec, line width=0.8pt},
    xtick={0,...,29},
    xticklabels={{08.\\Jul},{09.\\Jul},{10.\\Jul},{11.\\Jul},{12.\\Jul},{13.\\Jul},{14.\\Jul},{15.\\Jul},{16.\\Jul},{17.\\Jul},
                 {18.\\Jul},{19.\\Jul},{20.\\Jul},{21.\\Jul},{22.\\Jul},{23.\\Jul},{24.\\Jul},{25.\\Jul},{26.\\Jul},{27.\\Jul},
                 {28.\\Jul},{29.\\Jul},{30.\\Jul},{31.\\Jul},{01.\\Aug},{02.\\Aug},{03.\\Aug},{04.\\Aug},{05.\\Aug},{06.\\Aug}},
    ytick={0,0.5,1,1.5,2,2.5},
    grid=major,
    x grid style={gridc, line width=0.5pt, dash pattern=on 1pt off 2.2pt},
    y grid style={gridc, line width=0.5pt, dash pattern=on 2pt off 2pt},
    tick align=inside,
    major tick length=3pt,
    tick style={framec, line width=0.6pt},
    ticklabel style={text=black!85},
    xticklabel style={align=center, font=\fontsize{8}{12.8}\selectfont, yshift=-10pt},
    yticklabel style={font=\fontsize{8}{10}\selectfont, xshift=-2pt,
        /pgf/number format/fixed, /pgf/number format/fixed zerofill,
        /pgf/number format/precision=1, /pgf/number format/assume math mode=true},
    ylabel={Velocity (\textit{μm/s})},
    ylabel style={at={(axis description cs:-0.045,0.5)}, anchor=center, font=\fontsize{8.5}{10}\selectfont, text=black!85},
    legend style={at={(axis description cs:0,1)}, anchor=north west, xshift=6pt, yshift=-5.5pt,
        fill=legfill, draw=none, rounded corners=3pt, inner xsep=6pt, inner ysep=5pt,
        row sep=5pt, column sep=10pt, font=\fontsize{9}{10}\selectfont, text=black!85,
        nodes={inner sep=0pt, text height=6.6pt, text depth=1.8pt}},
    legend cell align=left,
    legend image code/.code={\draw[#1, line width=0.9pt] (0pt,0pt) -- (14pt,0pt);},
]
% glow where a band exceeds the threshold
\begin{scope}
\clip (axis cs:-1,0.455) rectangle (axis cs:30,2.6);
\addplot[haloblue, line width=10pt, line cap=round, line join=round, forget plot] table {\purpletab};
\addplot[halogreen, line width=10pt, line cap=round, line join=round, forget plot] table {\greentab};
\addplot[halored, line width=9pt, line cap=round, line join=round, restrict x to domain=23.99:24.42, forget plot] table {\redtab};
\end{scope}

\addplot[redbase, line width=0.8pt, forget plot] table {\redtab};
\addplot[greenbase, line width=0.8pt, forget plot] table {\greentab};
\addplot[purplebase, line width=0.8pt, line join=round, forget plot] table {\purpletab};
\addplot[fill=purplefill, draw=none, forget plot] table {\filltab} \closedcycle;

\begin{scope}
\clip (axis cs:-1,0.5) rectangle (axis cs:30,2.6);
\addplot[redbase, line width=0.9pt, forget plot] table {\redtab};
\addplot[greenvivid, line width=1pt, forget plot] table {\greentab};
\addplot[purplevivid, line width=1.2pt, line join=round, forget plot] table {\purpletab};
\end{scope}

\node[anchor=base, font=\fontsize{15.5}{18}\selectfont] at (axis cs:14.39,2.257) {faf};
\node[anchor=north, inner sep=0pt, font=\bfseries\fontsize{8}{9}\selectfont, text=black!85] at (axis cs:28.48,2.49) {11:00};

\addlegendimage{redbase}
\addlegendentry{0.5-1.0 Hz}
\addlegendimage{greenleg}
\addlegendentry{1.0-2.0 Hz}
\addlegendimage{purpleleg}
\addlegendentry{2.0-4.0 Hz}
\end{axis}
\pgfresetboundingbox
\path[use as bounding box] (-49pt,-35.5pt) rectangle (670.5pt,271.5pt);
\end{tikzpicture}
\end{document}
